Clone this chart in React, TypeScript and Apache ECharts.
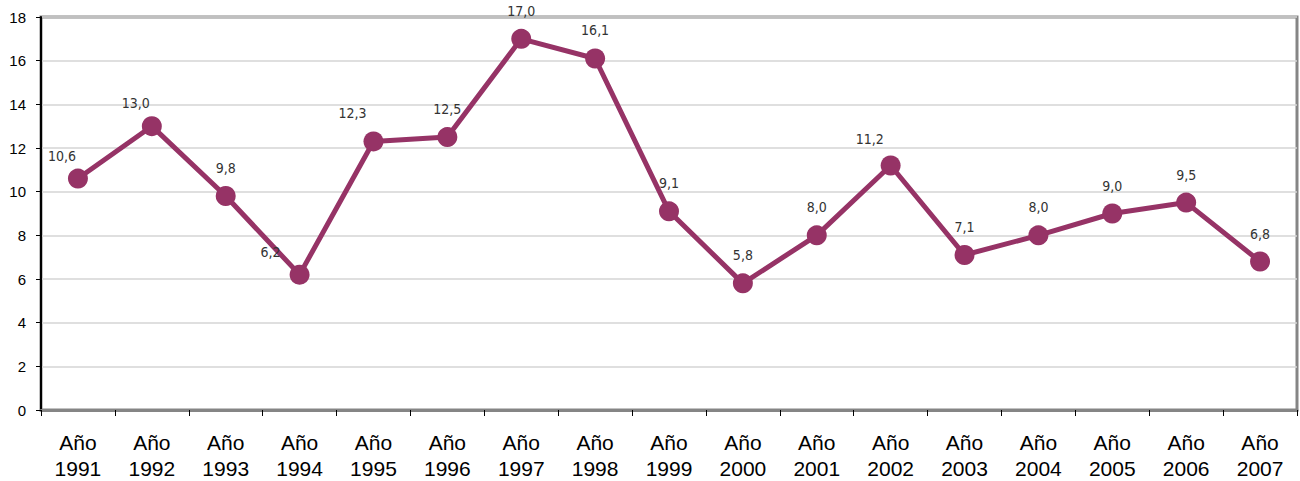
import React, { useEffect, useRef } from "react";
import * as echarts from "echarts";

const categories = ["1991","1992","1993","1994","1995","1996","1997","1998","1999","2000","2001","2002","2003","2004","2005","2006","2007"];
const values = [10.6, 13.0, 9.8, 6.2, 12.3, 12.5, 17.0, 16.1, 9.1, 5.8, 8.0, 11.2, 7.1, 8.0, 9.0, 9.5, 6.8];
const labelShift: Record<number, [number, number]> = {
  0: [-16, 5],
  1: [-16, 5],
  3: [-29, 5],
  4: [-21, 0],
  11: [-21, 2],
};

export default function App() {
  const ref = useRef<HTMLDivElement>(null);
  useEffect(() => {
    if (!ref.current) return;
    const chart = echarts.init(ref.current, undefined, { renderer: "svg" });
    chart.setOption({
      animation: false,
      backgroundColor: "#ffffff",
      grid: {
        left: 41,
        right: 3,
        top: 17,
        bottom: 71,
        outerBoundsMode: "none",
        containLabel: false,
        show: true,
        borderColor: "#858585",
        borderWidth: 3,
      },
      xAxis: {
        type: "category",
        data: categories.map((c) => "Año\n" + c),
        boundaryGap: true,
        axisLine: { lineStyle: { color: "#858585", width: 3 } },
        axisTick: { show: true, length: 6, interval: 0, lineStyle: { color: "#000", width: 1 } },
        axisLabel: {
          interval: 0,
          margin: 19,
          fontSize: 21,
          lineHeight: 26,
          color: "#000",
          fontFamily: "Liberation Sans",
        },
      },
      yAxis: {
        type: "value",
        min: 0,
        max: 18,
        interval: 2,
        axisLine: { show: true, lineStyle: { color: "#000", width: 2 } },
        axisTick: { show: true, length: 5, lineStyle: { color: "#000" } },
        splitLine: { lineStyle: { color: "#d4d4d4", width: 1.5 } },
        axisLabel: {
          margin: 15,
          fontSize: 15,
          color: "#000",
          fontFamily: "Liberation Sans",
        },
      },
      series: [
        {
          type: "line",
          data: values.map((v, i) => {
            const s = labelShift[i];
            return s ? { value: v, label: { offset: s } } : { value: v };
          }),
          lineStyle: { color: "#963366", width: 5 },
          itemStyle: { color: "#963366" },
          symbol: "circle",
          symbolSize: 20,
          label: {
            show: true,
            position: "top",
            distance: 11,
            fontSize: 14,
            color: "#333",
            fontFamily: "DejaVu Sans Condensed",
            formatter: (p: any) => Number(p.value).toFixed(1).replace(".", ","),
          },
        },
      ],
    });
    return () => chart.dispose();
  }, []);
  return <div ref={ref} style={{ width: 1300, height: 481, position: "absolute", left: 0, top: 0 }} />;
}
